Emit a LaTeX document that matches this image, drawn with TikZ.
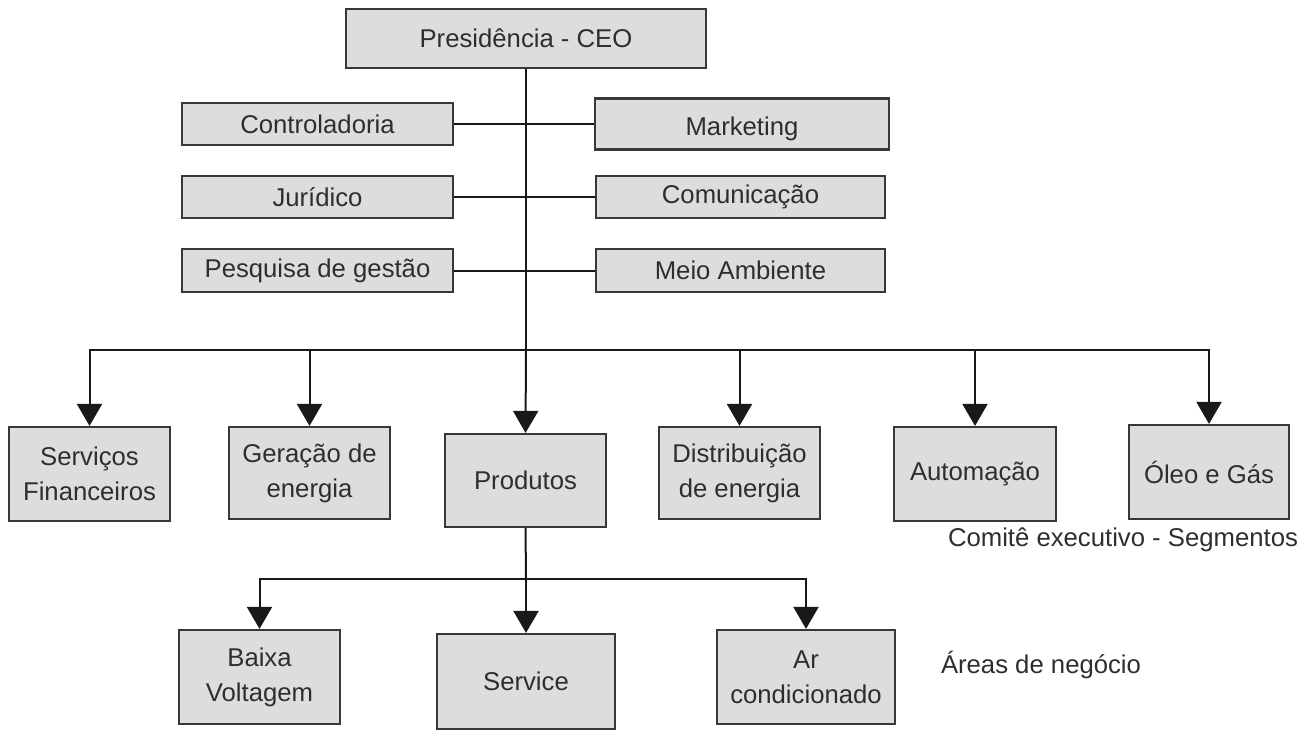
\documentclass[tikz,border=0pt]{standalone}
\usepackage{fontspec}
\setmainfont{Liberation Sans}
\usetikzlibrary{arrows.meta}
\definecolor{caixacinza}{HTML}{DCDDDF}
\definecolor{bordacinza}{HTML}{383838}
\definecolor{textocinza}{HTML}{2E2E2E}
\newcommand{\caixa}[2]{
	\node[draw = bordacinza, rectangle, line width = 2.2pt, fill = caixacinza, text = textocinza, align = center, minimum width = #1, minimum height = #2, inner sep = 0]
}

\begin{document}
\begin{tikzpicture}[x = 1pt, y = -1pt, font = \fontsize{25.7}{35}\selectfont,
	seta/.style = {-{Triangle[width = 25pt, length = 22pt]}, line width = 2pt, black!90},
	linha/.style = {line width = 2pt, black!90}]
		\useasboundingbox (0,0) rectangle (1305,748);

		\coordinate (bus) at (526,350);
		\coordinate (subbus) at (526,579);

		\draw[linha] (526,68) -- (bus);
		
		\caixa{360}{59} (ceo) at (526, 38.5) {Presidência - CEO};
		
		\caixa{271}{42} (ctrl) at (317.5, 124) {Controladoria};
		\caixa{271}{42} (jur) at (317.5, 197) {Jurídico};
		\caixa{271}{43} (pesq) at (317.5, 270.5) {Pesquisa de gestão};
		
		\caixa{294}{51} (mkt) at (742, 124) [text height = 28pt, text depth = 5pt] {Marketing};
		\caixa{289}{42} (com) at (740.5, 197) {Comunicação};
		\caixa{289}{43} (meio) at (740.5, 270.5) {Meio Ambiente};
		
		\draw[linha] (ctrl.east) -- (mkt.west);
		\draw[linha] (jur.east) -- (com.west);
		\draw[linha] (pesq.east) -- (meio.west);
		
		\caixa{161}{94} (fin) at (89.5, 474) {Serviços\\Financeiros};
		\caixa{161}{92} (ger) at (309.5, 473) {Geração de\\energia};
		\caixa{161}{93} (prod) at (525.5, 480.5) {Produtos};
		\caixa{161}{92} (dist) at (739.5, 473) {Distribuição\\de energia};
		\caixa{162}{94} (auto) at (975, 474) {Automação};
		\caixa{160}{94} (oleo) at (1209, 472) {Óleo e Gás};
		
		\draw[seta] (bus) -| (fin.north);
		\draw[seta] (bus) -| (ger.north);
		\draw[seta] (bus) -- (prod.north);
		\draw[seta] (bus) -| (dist.north);
		\draw[seta] (bus) -| (auto.north);
		\draw[seta] (bus) -| (oleo.north);
		
		\node[text = textocinza] (comite) at (1123, 540) {Comitê executivo - Segmentos};
		
		\caixa{161}{94} (baixa) at (259.5, 677) {Baixa\\Voltagem};
		\caixa{178}{95} (serv) at (526, 681.5) {Service};
		\caixa{178}{94} (ar) at (806, 677) {Ar\\condicionado};
		
		\draw[linha] (prod.south) -- (subbus);
		\draw[seta] (subbus) -| (baixa.north);
		\draw[seta] (subbus) -- (serv.north);
		\draw[seta] (subbus) -| (ar.north);
		
		\node[text = textocinza] (areas) at (1041, 665) {Áreas de negócio};
		
	\end{tikzpicture}
\end{document}
